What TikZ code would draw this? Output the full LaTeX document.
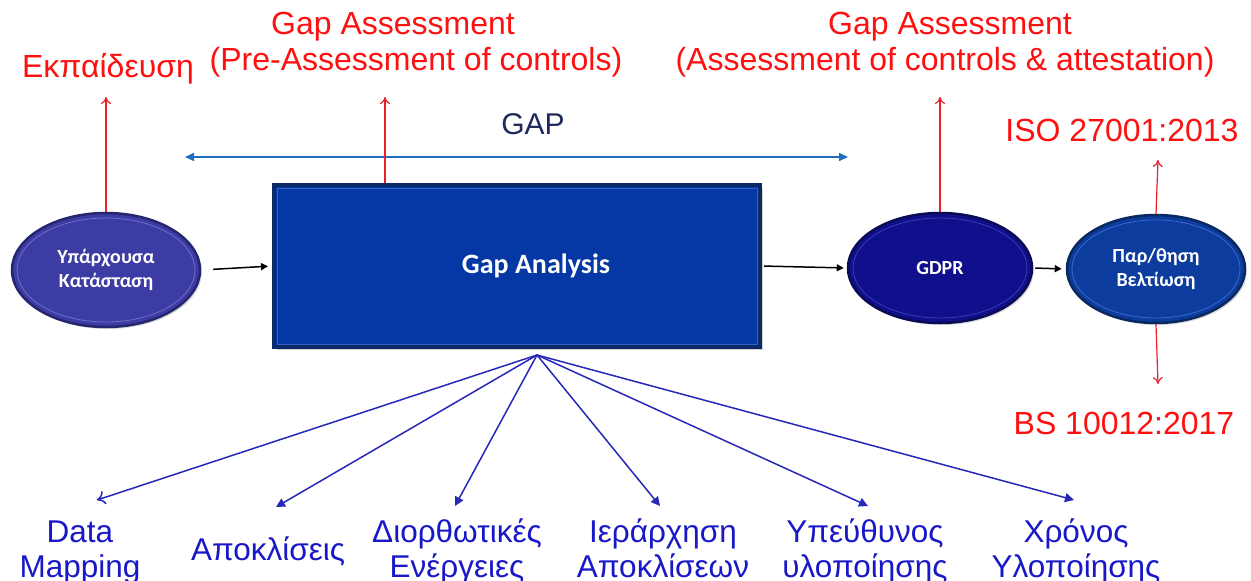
\documentclass[tikz,border=0pt]{standalone}
\usepackage{fontspec}
\setmainfont{Liberation Sans}
\newfontfamily\calib{Carlito}
\usetikzlibrary{arrows.meta,shapes.geometric,shadows}
\definecolor{ovAfill}{HTML}{3C3CA4}
\definecolor{ovAedge}{HTML}{26266E}
\definecolor{ovAring}{HTML}{6E6EC8}
\definecolor{ovBfill}{HTML}{10108C}
\definecolor{ovBedge}{HTML}{0A0A55}
\definecolor{ovBring}{HTML}{3A3AB0}
\definecolor{ovCfill}{HTML}{0C3C9E}
\definecolor{ovCedge}{HTML}{0A2860}
\definecolor{ovCring}{HTML}{3A68C8}
\definecolor{boxfill}{HTML}{0538A4}
\definecolor{boxedge}{HTML}{0C2A66}
\definecolor{boxring}{HTML}{3060C8}
\definecolor{redlab}{HTML}{FF1010}
\definecolor{redline}{HTML}{E8202A}
\definecolor{gapblue}{HTML}{1F6FC0}
\definecolor{gapnavy}{HTML}{1F2A5A}
\definecolor{fanblue}{HTML}{2828B8}
\definecolor{labblue}{HTML}{1818C8}
\tikzset{
  oval/.style={ellipse, line width=2.5pt, text=white, align=center, inner sep=0pt,
    font=\calib\bfseries\fontsize{20}{24}\selectfont,
    drop shadow={opacity=0.3, shadow xshift=2pt, shadow yshift=-2pt}},
  gapbox/.style={rectangle, fill=boxfill, draw=boxedge, line width=4pt, text=white,
    font=\calib\bfseries\fontsize{28}{32}\selectfont,
    drop shadow={opacity=0.35, shadow xshift=3pt, shadow yshift=-3pt}},
  redlbl/.style={text=redlab, font=\fontsize{32}{36}\selectfont, anchor=base, inner sep=0pt},
  bluelbl/.style={text=labblue, font=\fontsize{31.5}{35}\selectfont, align=center, anchor=base, inner sep=0pt},
  redarr/.style={draw=redline, line width=1.2pt, -{To[length=7pt,width=10pt]}},
  blkarr/.style={draw=black, line width=1.5pt, -{Triangle[length=7pt,width=7pt]}},
  fanarr/.style={draw=fanblue, line width=1.5pt, -{Triangle[length=9pt,width=9pt]}},
  fanopen/.style={draw=fanblue, line width=1.5pt, -{To[length=8pt,width=14pt]}},
  gaparr/.style={draw=gapblue, line width=1.5pt, {Triangle[length=9pt,width=8pt]}-{Triangle[length=9pt,width=8pt]}},
}
\begin{document}
\begin{tikzpicture}[x=1pt,y=-1pt]
\useasboundingbox (0,0) rectangle (1251,581);
\fill[white] (0,0) rectangle (1251,581);

% main shapes
\node[oval, fill=ovAfill, draw=ovAedge, minimum width=188pt, minimum height=114pt] (cur) at (106,270) {Υπάρχουσα\\Κατάσταση};
\node[gapbox, minimum width=486pt, minimum height=162pt] (gap) at (517,266) {\hspace*{38pt}Gap Analysis};
\node[oval, fill=ovBfill, draw=ovBedge, minimum width=184pt, minimum height=110pt] (gdpr) at (940,268) {GDPR};
\node[oval, fill=ovCfill, draw=ovCedge, minimum width=178pt, minimum height=108pt] (imp) at (1156,269) {Παρ/θηση\\Βελτίωση};

% inner rings
\draw[ovAring, line width=0.8pt] (cur.center) ellipse [x radius=89, y radius=52];
\draw[ovBring, line width=0.8pt] (gdpr.center) ellipse [x radius=87, y radius=50];
\draw[ovCring, line width=0.8pt] (imp.center) ellipse [x radius=84, y radius=49];
\draw[boxring, line width=0.8pt] ([shift={(5,5)}]gap.north west) rectangle ([shift={(-5,-5)}]gap.south east);

% horizontal flow
\draw[blkarr, shorten <=12pt, shorten >=4pt] (cur.east) -- (gap.west);
\draw[blkarr, shorten <=2pt, shorten >=3pt] (gap.east) -- (gdpr.west);
\draw[blkarr, shorten <=2pt, shorten >=4pt] (gdpr.east) -- (imp.west);

% GAP span
\coordinate (gapL) at (185,157);
\coordinate (gapR) at (848,157);
\draw[gaparr] (gapL) -- (gapR);
\node[text=gapnavy, font=\fontsize{30}{34}\selectfont, anchor=base, inner sep=0pt] (gaplbl) at (533,134) {GAP};

% red labels
\node[redlbl] (edu) at (108,77) {Εκπαίδευση};
\node[redlbl] (ga1a) at (393,34) {Gap Assessment};
\node[redlbl] (ga1b) at (416,70) {(Pre-Assessment of controls)};
\node[redlbl] (ga2a) at (950,34) {Gap Assessment};
\node[redlbl] (ga2b) at (945,70) {(Assessment of controls \& attestation)};
\node[redlbl] (iso) at (1122,141) {ISO 27001:2013};
\node[redlbl] (bs) at (1124,434) {BS 10012:2017};

\coordinate (eduT) at (106,97);
\coordinate (ga1T) at (385,97);
\coordinate (ga2T) at (940,97);
\coordinate (isoT) at (1158,160);
\coordinate (bsT) at (1158,384);
\draw[redarr] (cur.north) -- (eduT);
\draw[redarr] (ga1T |- gap.north) -- (ga1T);
\draw[redarr] (gdpr.north) -- (ga2T);
\draw[redarr] (imp.north) -- (isoT);
\draw[redarr] (imp.south) -- (bsT);

% fan of outcomes
\coordinate (fan) at (537,355);
\coordinate (t1) at (97,500);
\coordinate (t2) at (276,507);
\coordinate (t3) at (455,506);
\coordinate (t4) at (660,506);
\coordinate (t5) at (868,506);
\coordinate (t6) at (1074,500);
\draw[fanopen] (fan) -- (t1);
\draw[fanarr] (fan) -- (t2);
\draw[fanarr] (fan) -- (t3);
\draw[fanarr] (fan) -- (t4);
\draw[fanarr] (fan) -- (t5);
\draw[fanarr] (fan) -- (t6);

\node[bluelbl] (o1) at (80,577) {Data\\Mapping};
\node[bluelbl] (o2) at (268,560) {Αποκλίσεις};
\node[bluelbl] (o3) at (457,577) {Διορθωτικές\\Ενέργειες};
\node[bluelbl] (o4) at (663,577) {Ιεράρχηση\\Αποκλίσεων};
\node[bluelbl] (o5) at (865,577) {Υπεύθυνος\\υλοποίησης};
\node[bluelbl] (o6) at (1076,577) {Χρόνος\\Υλοποίησης};
\end{tikzpicture}
\end{document}
